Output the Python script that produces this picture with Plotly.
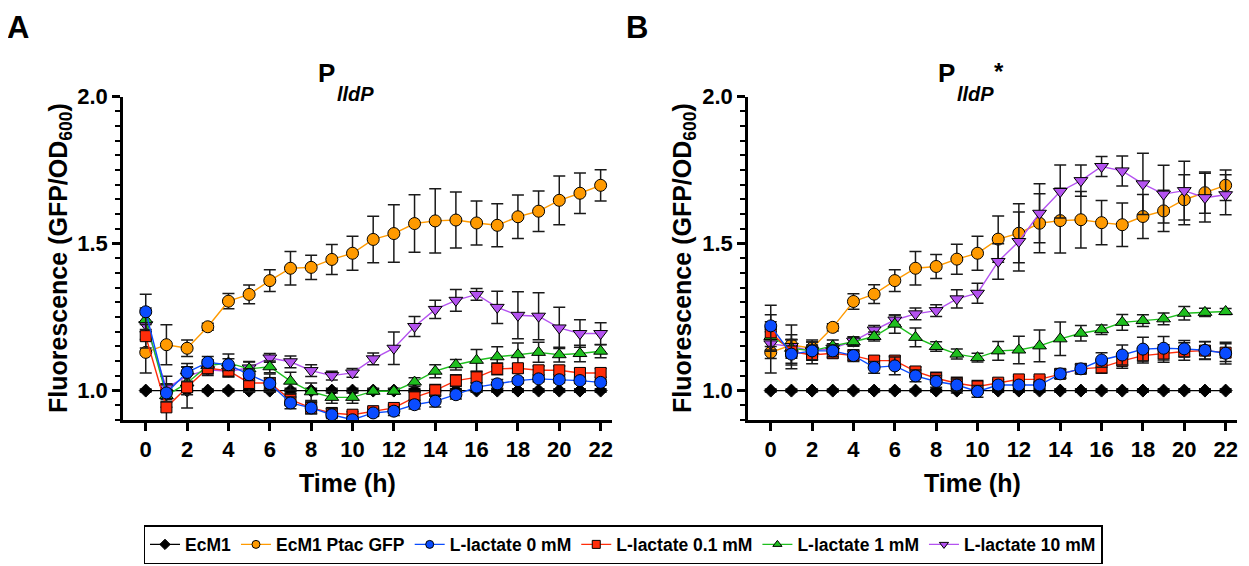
import plotly.graph_objects as go

# The page places the figure 8 px from the top-left corner, so the figure is
# sized to fill the rest of the 1249x566 window and positions are offset.
OFF = 8
W, H = 1249 - OFF, 566 - OFF

time_h = [0, 1, 2, 3, 4, 5, 6, 7, 8, 9, 10, 11, 12, 13, 14, 15, 16, 17, 18, 19, 20, 21, 22]
x_tick_vals = [0, 2, 4, 6, 8, 10, 12, 14, 16, 18, 20, 22]
x_tick_text = ["0", "2", "4", "6", "8", "10", "12", "14", "16", "18", "20", "22"]
y_tick_vals = [1.0, 1.5, 2.0]
y_tick_text = ["1.0", "1.5", "2.0"]

series_names = ["EcM1", "EcM1 Ptac GFP", "L-lactate 0 mM", "L-lactate 0.1 mM", "L-lactate 1 mM", "L-lactate 10 mM"]

# ---------- Panel A (PlldP) ----------
A_ecm1 = [1.000, 1.000, 1.000, 1.000, 1.000, 1.000, 1.000, 1.000, 1.000, 1.000, 1.000, 1.000,
          1.000, 1.000, 1.000, 1.000, 1.000, 1.000, 1.000, 1.000, 1.000, 1.000, 1.000]
A_ecm1_err = [0.005, 0.005, 0.005, 0.005, 0.005, 0.005, 0.005, 0.008, 0.008, 0.008, 0.008, 0.006,
              0.006, 0.006, 0.006, 0.006, 0.006, 0.006, 0.006, 0.006, 0.006, 0.006, 0.006]
A_gfp = [1.130, 1.156, 1.144, 1.217, 1.304, 1.327, 1.374, 1.416, 1.419, 1.446, 1.467, 1.514,
         1.534, 1.568, 1.577, 1.580, 1.570, 1.562, 1.591, 1.610, 1.647, 1.671, 1.698]
A_gfp_err = [0.070, 0.068, 0.028, 0.012, 0.026, 0.032, 0.037, 0.057, 0.041, 0.051, 0.058, 0.079,
             0.098, 0.098, 0.109, 0.095, 0.075, 0.073, 0.074, 0.069, 0.083, 0.069, 0.053]
A_0mM = [1.268, 0.992, 1.062, 1.096, 1.088, 1.054, 1.024, 0.958, 0.941, 0.918, 0.901, 0.924,
         0.930, 0.952, 0.964, 0.986, 1.012, 1.023, 1.034, 1.040, 1.037, 1.034, 1.028]
A_0mM_err = [0.060, 0.030, 0.030, 0.020, 0.020, 0.020, 0.020, 0.020, 0.020, 0.020, 0.010, 0.010,
             0.015, 0.015, 0.020, 0.015, 0.015, 0.015, 0.010, 0.010, 0.010, 0.010, 0.010]
A_01mM = [1.185, 0.943, 1.011, 1.076, 1.068, 1.026, 1.026, 0.969, 0.941, 0.924, 0.918, 0.930,
          0.941, 0.977, 1.001, 1.034, 1.045, 1.074, 1.076, 1.069, 1.069, 1.060, 1.060]
A_01mM_err = [0.040, 0.060, 0.070, 0.020, 0.020, 0.030, 0.030, 0.020, 0.020, 0.015, 0.010, 0.010,
              0.010, 0.020, 0.020, 0.020, 0.020, 0.020, 0.015, 0.015, 0.015, 0.015, 0.015]
A_1mM = [1.241, 0.983, 1.026, 1.085, 1.094, 1.074, 1.081, 1.032, 0.996, 0.977, 0.977, 0.998,
         0.998, 1.029, 1.066, 1.088, 1.103, 1.115, 1.122, 1.130, 1.122, 1.126, 1.134]
A_1mM_err = [0.040, 0.040, 0.040, 0.020, 0.030, 0.025, 0.020, 0.030, 0.030, 0.020, 0.020, 0.010,
             0.010, 0.015, 0.022, 0.018, 0.037, 0.034, 0.040, 0.034, 0.025, 0.028, 0.022]
A_10mM = [1.224, 1.009, 1.049, 1.071, 1.066, 1.077, 1.111, 1.098, 1.068, 1.051, 1.060, 1.108,
          1.144, 1.218, 1.276, 1.307, 1.327, 1.283, 1.256, 1.253, 1.213, 1.194, 1.194]
A_10mM_err = [0.050, 0.040, 0.030, 0.020, 0.020, 0.020, 0.015, 0.020, 0.020, 0.015, 0.015, 0.020,
              0.055, 0.034, 0.031, 0.037, 0.020, 0.055, 0.080, 0.080, 0.070, 0.047, 0.037]

# ---------- Panel B (PlldP*) ----------
B_ecm1 = [1.000, 1.000, 1.000, 1.000, 1.000, 1.000, 1.000, 1.000, 1.000, 1.000, 1.000, 1.000,
          1.000, 1.000, 1.000, 1.000, 1.000, 1.000, 1.000, 1.000, 1.000, 1.000, 1.000]
B_ecm1_err = [0.005, 0.005, 0.005, 0.005, 0.005, 0.005, 0.005, 0.005, 0.005, 0.008, 0.008, 0.006,
              0.006, 0.006, 0.006, 0.006, 0.006, 0.006, 0.006, 0.006, 0.006, 0.006, 0.006]
B_gfp = [1.130, 1.155, 1.144, 1.215, 1.303, 1.328, 1.374, 1.416, 1.422, 1.447, 1.467, 1.515,
         1.535, 1.569, 1.578, 1.581, 1.571, 1.564, 1.592, 1.611, 1.649, 1.673, 1.698]
B_gfp_err = [0.070, 0.068, 0.028, 0.012, 0.026, 0.032, 0.037, 0.057, 0.041, 0.051, 0.058, 0.079,
             0.100, 0.100, 0.110, 0.096, 0.075, 0.074, 0.075, 0.070, 0.085, 0.070, 0.052]
B_0mM = [1.220, 1.124, 1.135, 1.135, 1.119, 1.079, 1.084, 1.050, 1.031, 1.019, 0.997, 1.019,
         1.019, 1.019, 1.057, 1.074, 1.104, 1.121, 1.141, 1.144, 1.142, 1.137, 1.127]
B_0mM_err = [0.070, 0.050, 0.030, 0.020, 0.020, 0.020, 0.030, 0.020, 0.020, 0.020, 0.020, 0.010,
             0.010, 0.010, 0.015, 0.015, 0.025, 0.034, 0.040, 0.040, 0.028, 0.030, 0.037]
B_01mM = [1.198, 1.133, 1.121, 1.127, 1.119, 1.102, 1.102, 1.065, 1.042, 1.025, 1.014, 1.027,
          1.038, 1.038, 1.057, 1.074, 1.079, 1.101, 1.119, 1.126, 1.133, 1.136, 1.129]
B_01mM_err = [0.060, 0.040, 0.030, 0.015, 0.015, 0.015, 0.015, 0.015, 0.020, 0.020, 0.020, 0.010,
              0.010, 0.010, 0.015, 0.015, 0.020, 0.025, 0.025, 0.030, 0.030, 0.030, 0.030]
B_1mM = [1.184, 1.144, 1.135, 1.152, 1.166, 1.184, 1.226, 1.181, 1.150, 1.124, 1.112, 1.135,
         1.138, 1.152, 1.176, 1.195, 1.207, 1.232, 1.238, 1.244, 1.263, 1.266, 1.269]
B_1mM_err = [0.050, 0.030, 0.030, 0.020, 0.015, 0.015, 0.031, 0.032, 0.016, 0.017, 0.015, 0.032,
             0.047, 0.054, 0.057, 0.026, 0.016, 0.027, 0.020, 0.020, 0.023, 0.014, 0.010]
B_10mM = [1.159, 1.150, 1.135, 1.144, 1.168, 1.206, 1.240, 1.261, 1.272, 1.312, 1.331, 1.439,
          1.507, 1.603, 1.677, 1.714, 1.762, 1.747, 1.703, 1.668, 1.680, 1.656, 1.666]
B_10mM_err = [0.050, 0.040, 0.020, 0.015, 0.015, 0.015, 0.017, 0.020, 0.020, 0.031, 0.034, 0.060,
              0.100, 0.100, 0.090, 0.053, 0.034, 0.051, 0.104, 0.098, 0.100, 0.083, 0.068]

colors = ["#000000", "#FF9A00", "#0A4CFF", "#FF2D0A", "#1FBF1F", "#B452F0"]
symbols = ["diamond", "circle", "circle", "square", "triangle-up", "triangle-down"]
sizes = [10, 12, 12, 11, 12, 12]
line_colors = ["#000000", "#FF9A00", "#0A4CFF", "#FF2D0A", "#1FBF1F", "#B452F0"]

panelA = [(A_ecm1, A_ecm1_err), (A_gfp, A_gfp_err), (A_0mM, A_0mM_err),
          (A_01mM, A_01mM_err), (A_1mM, A_1mM_err), (A_10mM, A_10mM_err)]
panelB = [(B_ecm1, B_ecm1_err), (B_gfp, B_gfp_err), (B_0mM, B_0mM_err),
          (B_01mM, B_01mM_err), (B_1mM, B_1mM_err), (B_10mM, B_10mM_err)]

# drawing order: bottom -> top
draw_order = [0, 1, 5, 4, 3, 2]

fig = go.Figure()
for panel, xa, ya in [(panelA, "x", "y"), (panelB, "x2", "y2")]:
    for i in draw_order:
        vals, errs = panel[i]
        fig.add_trace(go.Scatter(
            x=time_h, y=vals, xaxis=xa, yaxis=ya, mode="lines+markers",
            name=series_names[i], showlegend=False,
            line=dict(color=line_colors[i], width=1.4),
            marker=dict(symbol=symbols[i], size=sizes[i], color=colors[i],
                        line=dict(color="#000000", width=1)),
            error_y=dict(type="data", array=errs, visible=True, color="#1a1a1a",
                         thickness=1.5, width=6),
        ))

# legend entries (smaller markers than in the plot)
for i in range(6):
    fig.add_trace(go.Scatter(
        x=[None], y=[None], mode="lines+markers", name=series_names[i],
        line=dict(color=line_colors[i], width=1.4),
        marker=dict(symbol=symbols[i], size=8, color=colors[i],
                    line=dict(color="#000000", width=1)),
        showlegend=True,
    ))

FONT = "Liberation Sans, Arial, sans-serif"

def px_x(p):
    return (p - OFF) / W

def px_y(p):
    return 1 - (p - OFF) / H

xr = [-1.1, 22.55]
yr = [0.9, 2.0]
common_x = dict(range=xr, showgrid=False, zeroline=False, showline=True, linecolor="black",
                linewidth=2.5, ticks="outside", ticklen=8, tickwidth=2.5, tickcolor="black",
                tickvals=x_tick_vals, ticktext=x_tick_text, automargin=False,
                tickfont=dict(family=FONT, size=22, color="black", weight="bold"))
common_y = dict(range=yr, showgrid=False, zeroline=False, showline=True, linecolor="black",
                linewidth=2.5, ticks="outside", ticklen=8, tickwidth=2.5, tickcolor="black",
                tickvals=y_tick_vals, ticktext=y_tick_text, automargin=False,
                tickfont=dict(family=FONT, size=22, color="black", weight="bold"),
                minor=dict(tick0=0.9, dtick=0.05, ticks="outside", ticklen=5, tickwidth=2,
                           tickcolor="black", showgrid=False))

ydom = [px_y(420), px_y(96.5)]
fig.update_layout(
    width=W, height=H, autosize=False,
    margin=dict(l=0, r=0, t=0, b=0, pad=0, autoexpand=False),
    paper_bgcolor="white", plot_bgcolor="white",
    font=dict(family=FONT, color="black"),
    xaxis=dict(domain=[px_x(123), px_x(612)], anchor="y", **common_x),
    yaxis=dict(domain=ydom, anchor="x", **common_y),
    xaxis2=dict(domain=[px_x(748), px_x(1237)], anchor="y2", **common_x),
    yaxis2=dict(domain=ydom, anchor="x2", **common_y),
    showlegend=True,
    legend=dict(orientation="h", x=px_x(623), xanchor="center", y=px_y(525), yanchor="top",
                bordercolor="black", borderwidth=1.5, bgcolor="white",
                font=dict(family=FONT, size=17.5, color="black", weight="bold"),
                traceorder="normal", itemclick=False),
)

ann = []
def add_text(text, x, y, size, xanchor="center", yanchor="middle", angle=0, italic=False):
    t = f"<i>{text}</i>" if italic else text
    ann.append(dict(text=t, x=px_x(x), y=px_y(y), xref="paper", yref="paper",
                    xanchor=xanchor, yanchor=yanchor, showarrow=False, textangle=angle,
                    font=dict(family=FONT, size=size, color="black", weight="bold")))

add_text("A", 5, 27, 31, xanchor="left")
add_text("B", 624, 27, 31, xanchor="left")
# panel titles
add_text("P", 316, 73, 26, xanchor="left")
add_text("lldP", 335, 94, 20, xanchor="left", italic=True)
add_text("P", 936, 73, 26, xanchor="left")
add_text("lldP", 955, 94, 20, xanchor="left", italic=True)
add_text("*", 999, 71, 24)
# axis titles
add_text("Time (h)", 347, 483, 25)
add_text("Time (h)", 972, 483, 25)
add_text("Fluorescence (GFP/OD<sub>600</sub>)", 60, 258, 25, angle=-90)
add_text("Fluorescence (GFP/OD<sub>600</sub>)", 684, 258, 25, angle=-90)
fig.update_layout(annotations=ann)

fig.write_html("out.html")
